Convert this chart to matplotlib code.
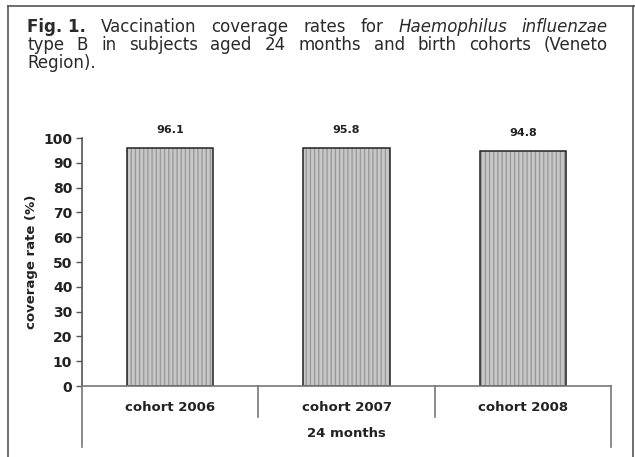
import matplotlib.pyplot as plt
from matplotlib.lines import Line2D

# dados do gráfico
cohorts = ["cohort 2006", "cohort 2007", "cohort 2008"]
coverage = [96.1, 95.8, 94.8]
group_label = "24 months"
y_ticks = [0, 10, 20, 30, 40, 50, 60, 70, 80, 90, 100]

W, H = 635, 457
fig = plt.figure(figsize=(W / 100, H / 100), dpi=100)


def fx(px):
    return px / W


def fy(py):
    return 1 - py / H


# moldura da figura (aberta em baixo)
for xs, ys in [((8, 8), (6, H)), ((8, W), (6, 6)), ((633, 633), (6, H))]:
    fig.add_artist(Line2D([fx(x) for x in xs], [fy(y) for y in ys],
                          color="#555555", lw=1.2))

# legenda da figura, justificada
caption = [
    [("Fig. 1.", "bold", "normal"), ("Vaccination", "normal", "normal"),
     ("coverage", "normal", "normal"), ("rates", "normal", "normal"),
     ("for", "normal", "normal"), ("Haemophilus", "normal", "italic"),
     ("influenzae", "normal", "italic")],
    [(w, "normal", "normal") for w in
     "type B in subjects aged 24 months and birth cohorts (Veneto".split()],
    [("Region).", "normal", "normal")],
]
x0, x1 = 27, 608
line_y = [32, 50, 68]
renderer = fig.canvas.get_renderer()
for i, (words, yb) in enumerate(zip(caption, line_y)):
    texts = []
    for w, weight, style in words:
        t = fig.text(0, fy(yb), w, fontsize=12, family="DejaVu Sans",
                     weight=weight, style=style, color="#2a2a2a",
                     va="baseline", ha="left")
        texts.append(t)
    widths = [t.get_window_extent(renderer).width for t in texts]
    if len(texts) > 1 and i < len(caption) - 1:
        gap = (x1 - x0 - sum(widths)) / (len(texts) - 1)
    else:
        gap = 5
    x = x0
    for t, wd in zip(texts, widths):
        t.set_x(fx(x))
        x += wd + gap

# eixos do gráfico
ax = fig.add_axes([fx(82), fy(386), fx(611) - fx(82), fy(138) - fy(386)])
pos = [i + 0.5 for i in range(len(cohorts))]
ax.bar(pos, coverage, width=0.49, color="#c8c8c8", edgecolor="#9a9a9a",
       hatch="||||", linewidth=0)
ax.bar(pos, coverage, width=0.49, fill=False, edgecolor="#222222",
       linewidth=1.1)

for p, v in zip(pos, coverage):
    ax.annotate(f"{v}", (p, v), xytext=(0, 13), textcoords="offset points",
                ha="center", va="center", fontsize=8, weight="bold",
                family="DejaVu Sans", color="#222222")

ax.set_xlim(0, 3)
ax.set_ylim(0, 100)
ax.set_yticks(y_ticks)
ax.set_yticklabels([str(t) for t in y_ticks], fontsize=10, weight="bold",
                   family="DejaVu Sans", color="#222222")
ax.tick_params(axis="y", length=4, width=1, color="#555555", pad=3)
ax.set_xticks([])
for s in ["top", "right"]:
    ax.spines[s].set_visible(False)
ax.spines["left"].set_color("#555555")
ax.spines["bottom"].set_color("#777777")
ax.spines["left"].set_linewidth(1.2)
ax.spines["bottom"].set_linewidth(1.2)
ax.set_ylabel("coverage rate (%)", fontsize=9.5, weight="bold",
              family="DejaVu Sans", color="#222222", labelpad=4)

# separadores das categorias abaixo do eixo
trans = ax.get_xaxis_transform()
for b in range(len(cohorts) + 1):
    depth = -0.246 if b in (0, len(cohorts)) else -0.125
    ax.plot([b, b], [0, depth], transform=trans, clip_on=False,
            color="#777777", lw=1.2)

for p, c in zip(pos, cohorts):
    ax.text(p, -0.085, c, transform=trans, ha="center", va="center",
            fontsize=9.5, weight="bold", family="DejaVu Sans",
            color="#222222")
ax.text(1.5, -0.19, group_label, transform=trans, ha="center", va="center",
        fontsize=9.5, weight="bold", family="DejaVu Sans", color="#222222")

fig.savefig("out.png", dpi=100)
